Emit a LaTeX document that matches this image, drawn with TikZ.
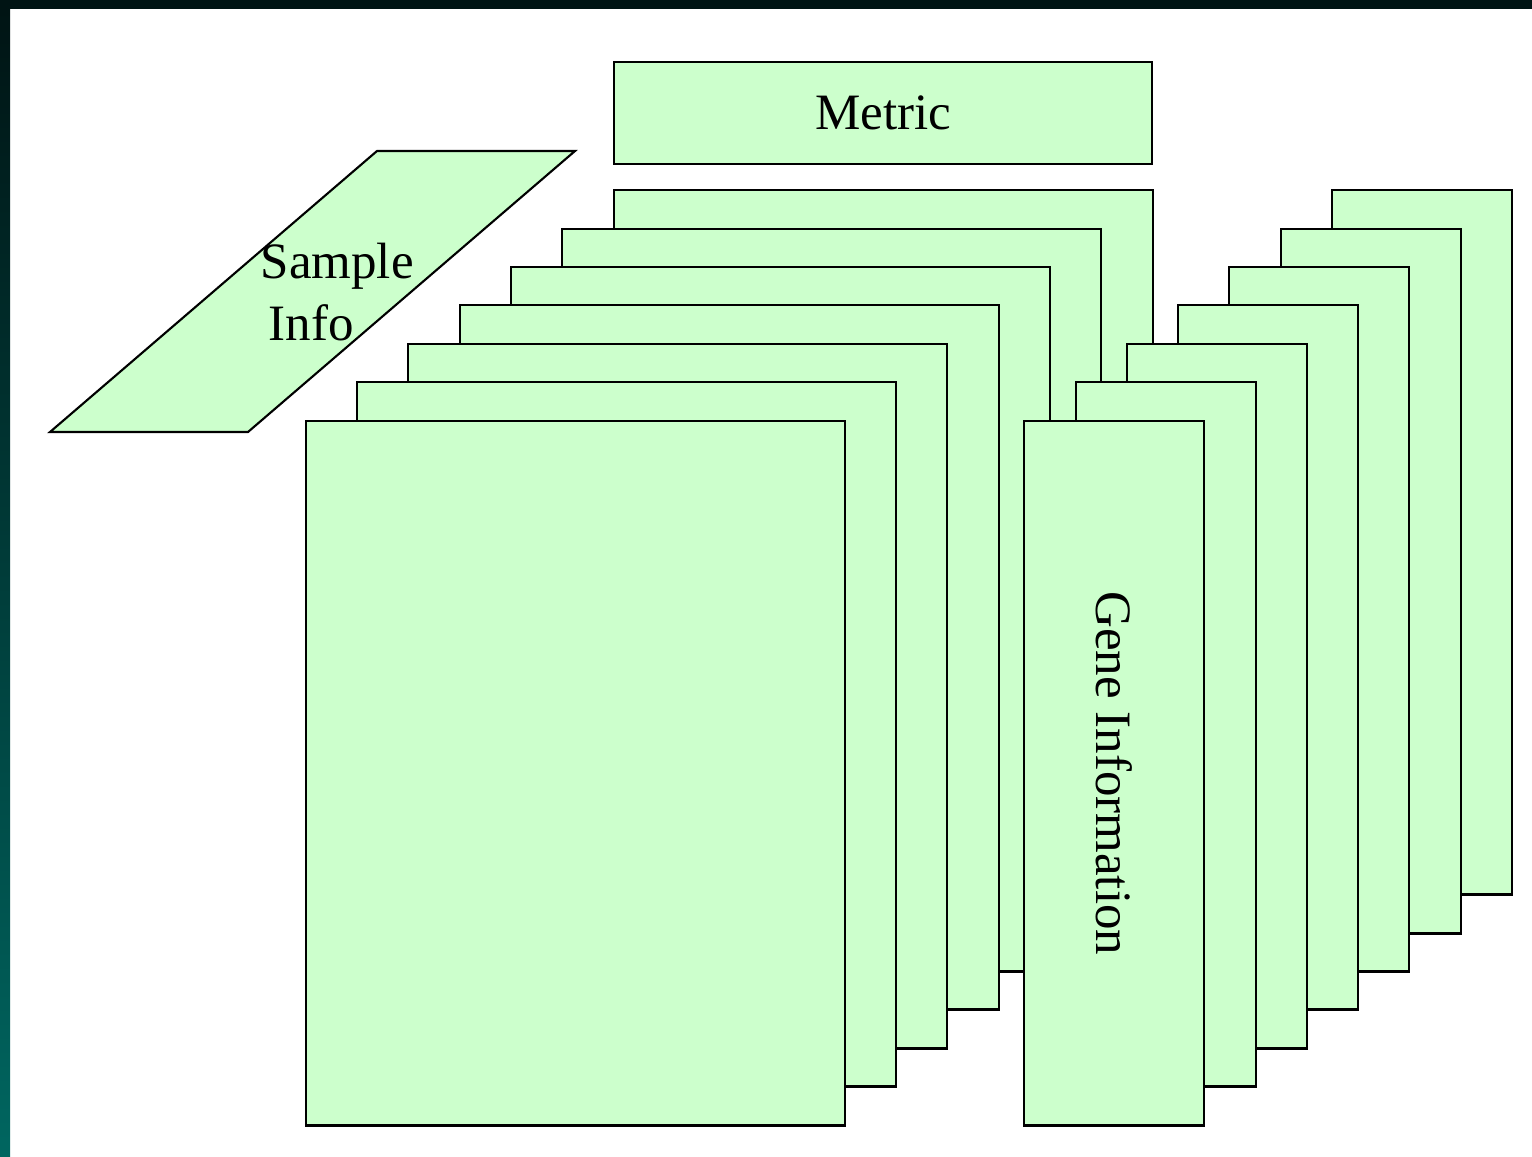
\documentclass[tikz,border=0pt]{standalone}
\usepackage{fontspec}
\setmainfont{Liberation Serif}
\definecolor{sheetgreen}{RGB}{204,255,204}
\definecolor{framedark}{RGB}{0,20,20}
\definecolor{frameteal}{RGB}{0,102,96}
\tikzset{
    sheet/.style={rectangle, draw=black, fill=sheetgreen, line width=0.6pt, inner sep=0pt, anchor=north west, minimum height=7.04cm},
    sheet_wide/.style={sheet, minimum width=5.39cm},
    sheet_narrow/.style={sheet, minimum width=1.80cm},
    label_text/.style={font=\fontsize{14.5}{17.5}\selectfont, inner sep=0pt}
}

\begin{document}
\begin{tikzpicture}[x=0.01cm, y=-0.01cm]

    \useasboundingbox (0,0) rectangle (1532,1157);

    % Frame
    \fill[white] (0,0) rectangle (1532,1157);
    \fill[framedark] (0,0) rectangle (1532,9);
    \shade[top color=framedark, bottom color=frameteal] (0,9) rectangle (10,1157);

    % Samples - back to front
    \node[sheet_wide] (lsheet6) at (613,189) {};
    \node[sheet_wide] (lsheet5) at (561,228) {};
    \node[sheet_wide] (lsheet4) at (510,266) {};
    \node[sheet_wide] (lsheet3) at (459,304) {};
    \node[sheet_wide] (lsheet2) at (407,343) {};
    \node[sheet_wide] (lsheet1) at (356,381) {};
    \node[sheet_wide] (lsheet0) at (305,420) {};

    % Genes - back to front
    \node[sheet_narrow] (rsheet6) at (1331,189) {};
    \node[sheet_narrow] (rsheet5) at (1280,228) {};
    \node[sheet_narrow] (rsheet4) at (1228,266) {};
    \node[sheet_narrow] (rsheet3) at (1177,304) {};
    \node[sheet_narrow] (rsheet2) at (1126,343) {};
    \node[sheet_narrow] (rsheet1) at (1075,381) {};
    \node[sheet_narrow] (rsheet0) at (1023,420) {};

    \node[label_text, rotate=-90] (geneinfo) at (rsheet0.center) {Gene Information};

    % Metric header
    \node[rectangle, draw=black, fill=sheetgreen, line width=0.6pt, anchor=north west,
          minimum width=5.38cm, minimum height=1.02cm, label_text] (metric) at (613,61) {Metric};

    % Sample info parallelogram
    \coordinate (sinw) at (377,151);
    \coordinate (sine) at (575,151);
    \coordinate (sise) at (248,432);
    \coordinate (sisw) at (50,432);
    \filldraw[fill=sheetgreen, draw=black, line width=0.6pt]
        (sinw) -- (sine) -- (sise) -- (sisw) -- cycle;
    \node[label_text, anchor=west, align=left] (sampleinfo) at (260,292)
        {Sample\\\hspace*{0.08cm}Info};

\end{tikzpicture}
\end{document}
